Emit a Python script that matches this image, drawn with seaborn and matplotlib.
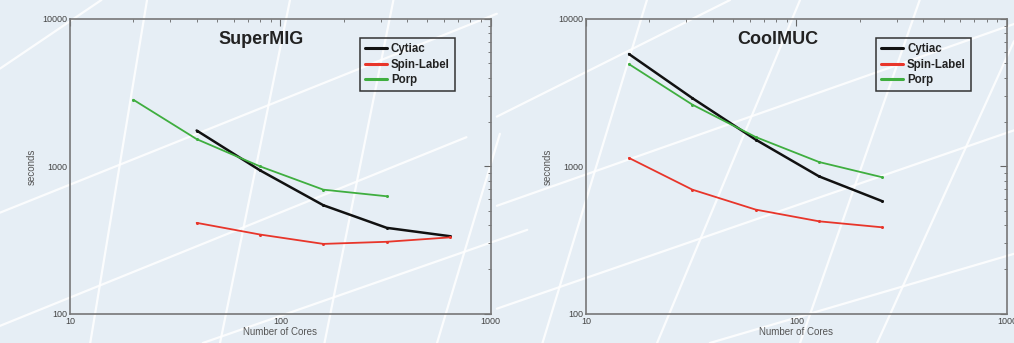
import pandas as pd
import numpy as np
import matplotlib.pyplot as plt
import seaborn as sns
from matplotlib.lines import Line2D
from matplotlib.ticker import LogLocator, FixedLocator, FixedFormatter, NullFormatter

sns.set_style('white')
plt.rcParams['font.family'] = ['Liberation Sans', 'DejaVu Sans']

# SuperMIG timings (seconds)
smig_cores_a = [40, 80, 160, 320, 640]
smig_cytiac = [1750, 940, 545, 383, 336]
smig_spin = [414, 345, 298, 308, 330]
smig_cores_p = [20, 40, 80, 160, 320]
smig_porp = [2830, 1530, 1000, 695, 627]

# CoolMUC timings (seconds)
cmuc_cores = [16, 32, 64, 128, 256]
cmuc_cytiac = [5770, 2900, 1517, 855, 580]
cmuc_spin = [1140, 695, 509, 424, 386]
cmuc_porp = [4930, 2620, 1580, 1070, 843]

series_names = ['Cytiac', 'Spin-Label', 'Porp']
colors = {'Cytiac': '#111111', 'Spin-Label': '#e8352a', 'Porp': '#3fae3f'}
widths = {'Cytiac': 1.8, 'Spin-Label': 1.3, 'Porp': 1.3}

df_smig = pd.concat([
    pd.DataFrame({'cores': smig_cores_a, 'sec': smig_cytiac, 'code': 'Cytiac'}),
    pd.DataFrame({'cores': smig_cores_a, 'sec': smig_spin, 'code': 'Spin-Label'}),
    pd.DataFrame({'cores': smig_cores_p, 'sec': smig_porp, 'code': 'Porp'}),
])
df_cmuc = pd.concat([
    pd.DataFrame({'cores': cmuc_cores, 'sec': cmuc_cytiac, 'code': 'Cytiac'}),
    pd.DataFrame({'cores': cmuc_cores, 'sec': cmuc_spin, 'code': 'Spin-Label'}),
    pd.DataFrame({'cores': cmuc_cores, 'sec': cmuc_porp, 'code': 'Porp'}),
])

fig = plt.figure(figsize=(10.14, 3.43), dpi=100)
fig.patch.set_facecolor('#e6eef5')

# slide background: white diagonal streaks (figure fraction, decoration only)
bg_lines = [
    ((0.089, 0.0), (0.145, 1.0)), ((0.217, 0.0), (0.286, 1.0)),
    ((0.320, 0.0), (0.388, 1.0)), ((0.431, 0.0), (0.493, 0.61)),
    ((0.535, 0.0), (0.638, 1.0)), ((0.648, 0.0), (0.789, 1.0)),
    ((0.789, 0.0), (0.907, 1.0)), ((0.865, 0.0), (1.0, 0.88)),
    ((0.0, 0.80), (0.10, 1.0)), ((0.0, 0.38), (0.49, 0.96)),
    ((0.0, 0.05), (0.46, 0.60)), ((0.20, 0.0), (0.52, 0.33)),
    ((0.49, 0.66), (0.72, 1.0)), ((0.49, 0.40), (1.0, 0.93)),
    ((0.49, 0.10), (1.0, 0.62)), ((0.70, 0.0), (1.0, 0.26)),
]
for (x0, y0), (x1, y1) in bg_lines:
    fig.add_artist(Line2D([x0, x1], [y0, y1], transform=fig.transFigure,
                          color='white', lw=1.6, alpha=0.85, zorder=0))

ax1 = fig.add_axes([0.069, 0.085, 0.415, 0.86])
ax2 = fig.add_axes([0.578, 0.085, 0.415, 0.86])

for ax, data, title in [(ax1, df_smig, 'SuperMIG'), (ax2, df_cmuc, 'CoolMUC')]:
    ax.patch.set_alpha(0.0)
    for name in series_names:
        sub = data[data['code'] == name]
        sns.lineplot(data=sub, x='cores', y='sec', ax=ax, color=colors[name],
                     lw=widths[name], marker='o', markersize=2.2,
                     markeredgewidth=0, label=name)
    ax.set_xscale('log')
    ax.set_yscale('log')
    ax.set_xlim(10, 1000)
    ax.set_ylim(100, 10000)
    ax.xaxis.set_major_locator(FixedLocator([10, 100, 1000]))
    ax.xaxis.set_major_formatter(FixedFormatter(['10', '100', '1000']))
    ax.yaxis.set_major_locator(FixedLocator([100, 1000, 10000]))
    ax.yaxis.set_major_formatter(FixedFormatter(['100', '1000', '10000']))
    ax.xaxis.set_minor_locator(LogLocator(base=10, subs=np.arange(2, 10)))
    ax.yaxis.set_minor_locator(LogLocator(base=10, subs=np.arange(2, 10)))
    ax.xaxis.set_minor_formatter(NullFormatter())
    ax.yaxis.set_minor_formatter(NullFormatter())
    ax.tick_params(which='both', direction='in', top=True, right=True,
                   colors='#666666', labelcolor='#444444', labelsize=6.5, pad=2)
    ax.tick_params(which='major', length=5, width=0.8)
    ax.tick_params(which='minor', length=2.5, width=0.6)
    for sp in ax.spines.values():
        sp.set_color('#777777')
        sp.set_linewidth(1.2)
    ax.set_xlabel('Number of Cores', fontsize=7, color='#555555', labelpad=1)
    ax.set_ylabel('seconds', fontsize=7, color='#555555', labelpad=4)
    ax.text(0.455, 0.93, title, transform=ax.transAxes, ha='center', va='center',
            fontsize=13, fontweight='bold', color='#222222')
    leg = ax.legend(loc='upper right', bbox_to_anchor=(0.915, 0.935),
                    fontsize=8.3, handlelength=1.9, handletextpad=0.35,
                    labelspacing=0.3, borderpad=0.45, borderaxespad=0.0,
                    fancybox=False, facecolor='none', framealpha=1.0,
                    edgecolor='#333333')
    leg.get_frame().set_linewidth(1.1)
    for t in leg.get_texts():
        t.set_fontweight('bold')
        t.set_color('#222222')
    for h in leg.legend_handles:
        h.set_marker('')
        h.set_linewidth(2.2)

plt.savefig('out.png', dpi=100, facecolor=fig.get_facecolor())
plt.close()
